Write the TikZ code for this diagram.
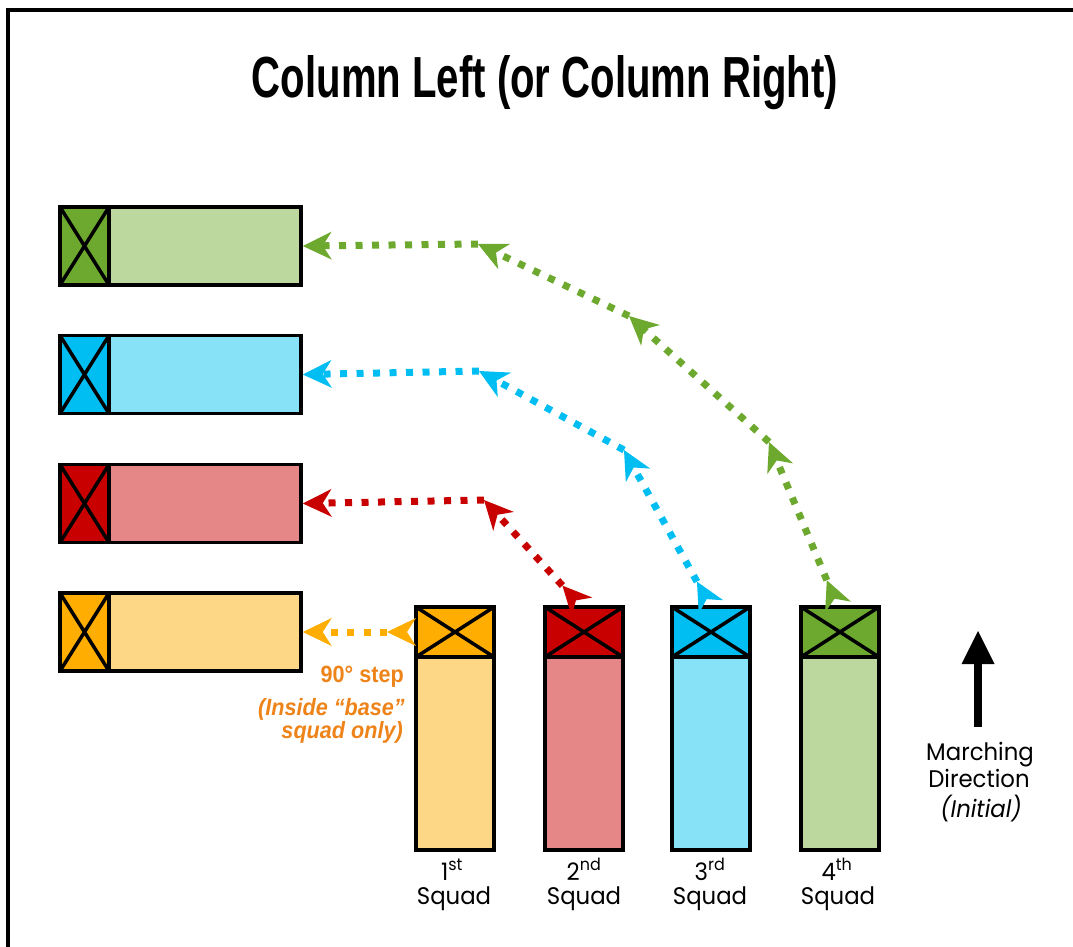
\documentclass[tikz,border=0pt]{standalone}
\usepackage{graphicx}
\usepackage{fontspec}
\setmainfont{Poppins}
\newfontfamily\labfont[FakeStretch=0.95]{Poppins}
\newfontfamily\titlefont{Liberation Sans}
\newfontfamily\notefont[FakeStretch=0.92]{Liberation Sans}
\usetikzlibrary{arrows.meta}
\definecolor{oDark}{HTML}{FFAD00}
\definecolor{oLight}{HTML}{FED786}
\definecolor{rDark}{HTML}{C90000}
\definecolor{rLight}{HTML}{E68787}
\definecolor{bDark}{HTML}{00BEF2}
\definecolor{bLight}{HTML}{87E2F8}
\definecolor{gDark}{HTML}{6EA92F}
\definecolor{gLight}{HTML}{BDD89F}
\definecolor{noteCol}{HTML}{EE8419}
\tikzset{
  frameline/.style={line width=4pt, line cap=rect},
  dest/.style={rectangle, draw=black, line width=3.5pt, minimum width=241pt, minimum height=78pt, inner sep=0pt},
  xbox/.style={rectangle, draw=black, line width=3.5pt, minimum width=49pt, minimum height=78pt, inner sep=0pt, outer sep=0pt},
  colbody/.style={rectangle, draw=black, line width=3.5pt, minimum width=78pt, minimum height=193pt, inner sep=0pt, outer sep=0pt},
  colhead/.style={rectangle, draw=black, line width=3.5pt, minimum width=78pt, minimum height=50pt, inner sep=0pt, outer sep=0pt},
  xline/.style={draw=black, line width=3.5pt},
  mv/.style={line width=7pt, dash pattern=on 7pt off 9.5pt},
  mvend/.tip={Stealth[length=29pt,width=28pt,inset=9pt,line width=0pt]},
  mvstart/.tip={Stealth[reversed,length=29pt,width=28pt,inset=9pt,line width=0pt]},
  lab/.style={inner sep=0pt, font=\labfont\fontsize{24}{24}\selectfont},
  note/.style={inner sep=0pt, text=noteCol, font=\notefont\bfseries\fontsize{23.5}{23.5}\selectfont},
}
\begin{document}
\begin{tikzpicture}[x=1pt,y=-1pt]
\useasboundingbox (0,0) rectangle (1073,946);
% frame
\draw[frameline] (8.3,950) -- (8.3,9.5) -- (1080,9.5);
% title
\node[anchor=base, inner sep=0pt] (title) at (545,97) {\resizebox{586pt}{42pt}{\titlefont\bfseries Column Left (or Column Right)}};
% destination rows
\node[dest, fill=gLight] (dG) at (180.5,246) {};
\node[dest, fill=bLight] (dB) at (180.5,374.5) {};
\node[dest, fill=rLight] (dR) at (180.5,503.5) {};
\node[dest, fill=oLight] (dO) at (180.5,632) {};
\foreach \n/\c/\y in {xG/gDark/246, xB/bDark/374.5, xR/rDark/503.5, xO/oDark/632}{
  \node[xbox, fill=\c] (\n) at (84.5,\y) {};
  \draw[xline] (\n.north west) -- (\n.south east) (\n.north east) -- (\n.south west);
}
% squad columns
\foreach \i/\x/\l/\d in {1/455/oLight/oDark, 2/584/rLight/rDark, 3/711/bLight/bDark, 4/840/gLight/gDark}{
  \node[colbody, fill=\l] (c\i) at (\x,753.5) {};
  \node[colhead, fill=\d] (h\i) at (\x,632) {};
  \draw[xline] (h\i.north west) -- (h\i.south east) (h\i.north east) -- (h\i.south west);
}
% turning points
\coordinate (r1) at (484,500);
\coordinate (b1) at (624,450);
\coordinate (b2) at (479,371);
\coordinate (g1) at (769,442);
\coordinate (g2) at (629,316);
\coordinate (g3) at (478,244);
% orange
\draw[mv, oDark, {mvstart}-{mvend}] (h1.west) -- (dO.east);
% red
\draw[mv, rDark, {mvstart}-{mvend}] ([xshift=-2pt]h2.north) -- (r1);
\draw[mv, rDark, -{mvend}] (r1) -- (dR.east);
% blue
\draw[mv, bDark, {mvstart}-{mvend}] (h3.north) -- (b1);
\draw[mv, bDark, -{mvend}] (b1) -- (b2);
\draw[mv, bDark, -{mvend}] (b2) -- (dB.east);
% green
\draw[mv, gDark, {mvstart}-{mvend}] ([xshift=-2pt]h4.north) -- (g1);
\draw[mv, gDark, -{mvend}] (g1) -- (g2);
\draw[mv, gDark, -{mvend}] (g2) -- (g3);
\draw[mv, gDark, -{mvend}] (g3) -- (dG.east);
% note
\node[note, anchor=base east] (n1) at (404,682) {90° step};
\node[note, anchor=base east] (n2) at (405,715) {\itshape (Inside “base”};
\node[note, anchor=base east] (n3) at (403,738) {\itshape squad only)};
% squad labels
\node[lab, anchor=base] (s1a) at (452,880) {1\textsuperscript{st}};
\node[lab, anchor=base] (s1b) at (454,904) {Squad};
\node[lab, anchor=base] (s2a) at (584,880) {2\textsuperscript{nd}};
\node[lab, anchor=base] (s2b) at (584,904) {Squad};
\node[lab, anchor=base] (s3a) at (710,880) {3\textsuperscript{rd}};
\node[lab, anchor=base] (s3b) at (710,904) {Squad};
\node[lab, anchor=base] (s4a) at (837,880) {4\textsuperscript{th}};
\node[lab, anchor=base] (s4b) at (838,904) {Squad};
% marching direction
\node[lab, anchor=base] (m1) at (980,760) {Marching};
\node[lab, anchor=base] (m2) at (979,787) {Direction};
\node[lab, anchor=base] (m3) at (981,817) {\itshape (Initial)};
\coordinate (ma1) at (978,727);
\coordinate (ma2) at (978,631);
\draw[line width=8pt, -{Triangle[length=33pt,width=33pt,line width=0pt]}] (ma1) -- (ma2);
\end{tikzpicture}
\end{document}
